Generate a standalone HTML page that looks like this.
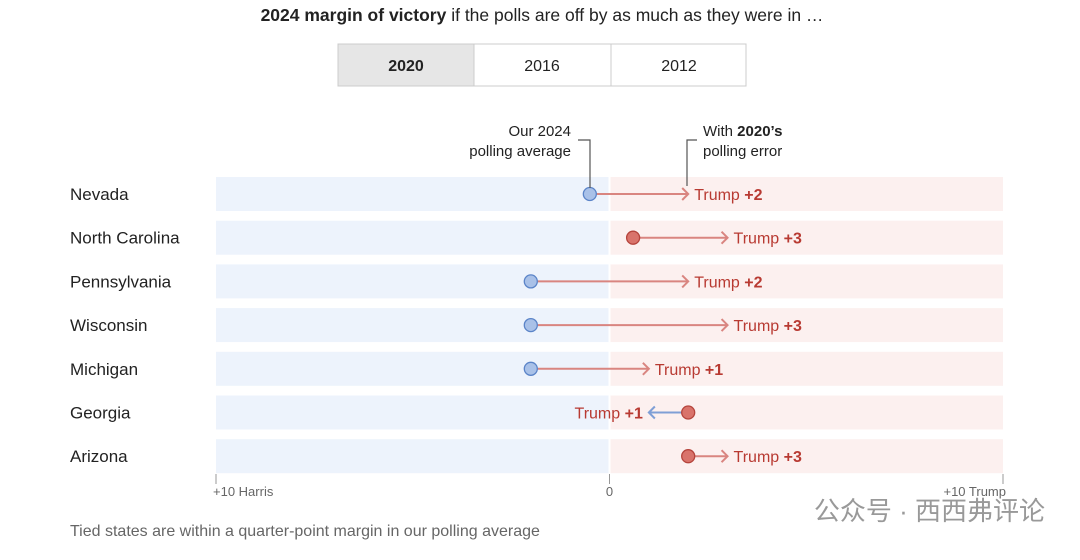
<!DOCTYPE html>
<html><head><meta charset="utf-8"><style>
body{margin:0;background:#fff;font-family:"Liberation Sans",sans-serif;}
svg text{font-family:"Liberation Sans",sans-serif;}
</style></head><body>
<svg width="1080" height="555" viewBox="0 0 1080 555">
<text x="542" y="21" text-anchor="middle" font-size="17.5" fill="#222"><tspan font-weight="bold">2024 margin of victory</tspan> if the polls are off by as much as they were in …</text>
<g>
<rect x="338" y="44" width="136" height="42" fill="#e6e6e6" stroke="#ccc"/>
<rect x="474" y="44" width="137" height="42" fill="#fff" stroke="#ccc"/>
<rect x="611" y="44" width="135" height="42" fill="#fff" stroke="#ccc"/>
<text x="406" y="71" text-anchor="middle" font-size="16" font-weight="bold" fill="#222">2020</text>
<text x="542" y="71" text-anchor="middle" font-size="16" fill="#222">2016</text>
<text x="679" y="71" text-anchor="middle" font-size="16" fill="#222">2012</text>
</g>
<g id="plot"></g>
<g>
<text x="571" y="136" text-anchor="end" font-size="15" fill="#222">Our 2024</text>
<text x="571" y="156" text-anchor="end" font-size="15" fill="#222">polling average</text>
<polyline points="578,140 590,140 590,188" fill="none" stroke="#555" stroke-width="1.2"/>
<text x="703" y="136" font-size="15" fill="#222">With <tspan font-weight="bold">2020’s</tspan></text>
<text x="703" y="156" font-size="15" fill="#222">polling error</text>
<polyline points="697,140 687,140 687,186" fill="none" stroke="#555" stroke-width="1.2"/>
</g>
<text x="70" y="536" font-size="16" fill="#666">Tied states are within a quarter-point margin in our polling average</text>
<text x="1045" y="520" text-anchor="end" font-size="26" fill="#999">公众号 · 西西弗评论</text>
</svg>
<script>
const states=["Nevada","North Carolina","Pennsylvania","Wisconsin","Michigan","Georgia","Arizona"];
const avg=[-0.5,0.6,-2,-2,-2,2,2];
const adjusted=[2,3,2,3,1,1,3];
const labels=["Trump +2","Trump +3","Trump +2","Trump +3","Trump +1","Trump +1","Trump +3"];
const ticks=[-10,0,10];
const tickLabels=["+10 Harris","0","+10 Trump"];
const NS="http://www.w3.org/2000/svg";
const g=document.getElementById('plot');
const X0=216,X1=1003;
const x=v=>X0+(v+10)/20*(X1-X0);
const y=i=>194+i*43.7;
function mk(t,a){const e=document.createElementNS(NS,t);for(const k in a)e.setAttribute(k,a[k]);g.appendChild(e);return e;}
states.forEach((s,i)=>{
  const cy=y(i);
  let e=mk('rect',{x:X0,y:cy-17,width:x(0)-X0-1,height:34,fill:'#edf3fc'});
  
  
  e=mk('rect',{x:x(0)+1,y:cy-17,width:X1-x(0)-1,height:34,fill:'#fcf0ef'});
  
  
  e=mk('text',{x:70,y:cy+6,'font-size':17,fill:'#222'});e.textContent=s;
  
  
  const x1=x(avg[i]),x2=x(adjusted[i]);const dir=x2>x1?1:-1;
  const col=dir>0?'#d98580':'#7f9fd6';
  e=mk('line',{x1:x1,y1:cy,x2:x2,y2:cy,stroke:col,'stroke-width':2});
  
  
  mk('polyline',{points:`${x2-6*dir},${cy-6} ${x2},${cy} ${x2-6*dir},${cy+6}`,fill:'none',stroke:col,'stroke-width':2});
  const blue=avg[i]<0;
  e=mk('circle',{cx:x1,cy:cy,r:6.5,fill:blue?'#a9c1e8':'#d9736b',stroke:blue?'#5b84c8':'#b5443c','stroke-width':1.3});
  
  
  const parts=labels[i].split(' ');
  e=mk('text',{x:dir>0?x2+6:x2-6,y:cy+6,'font-size':16,fill:'#b83a32','text-anchor':dir>0?'start':'end'});
  e.innerHTML=parts[0]+' <tspan font-weight="bold">'+parts[1]+'</tspan>';
  
  
});
const anchors=['start','middle','end'];
ticks.forEach((t,i)=>{
  mk('line',{x1:x(t),y1:474,x2:x(t),y2:484,stroke:'#999'});
  const dx=i===0?-3:(i===2?3:0);
  const e=mk('text',{x:x(t)+dx,y:496,'font-size':13,fill:'#666','text-anchor':anchors[i]});e.textContent=tickLabels[i];
  
  
});
</script>
</body></html>
